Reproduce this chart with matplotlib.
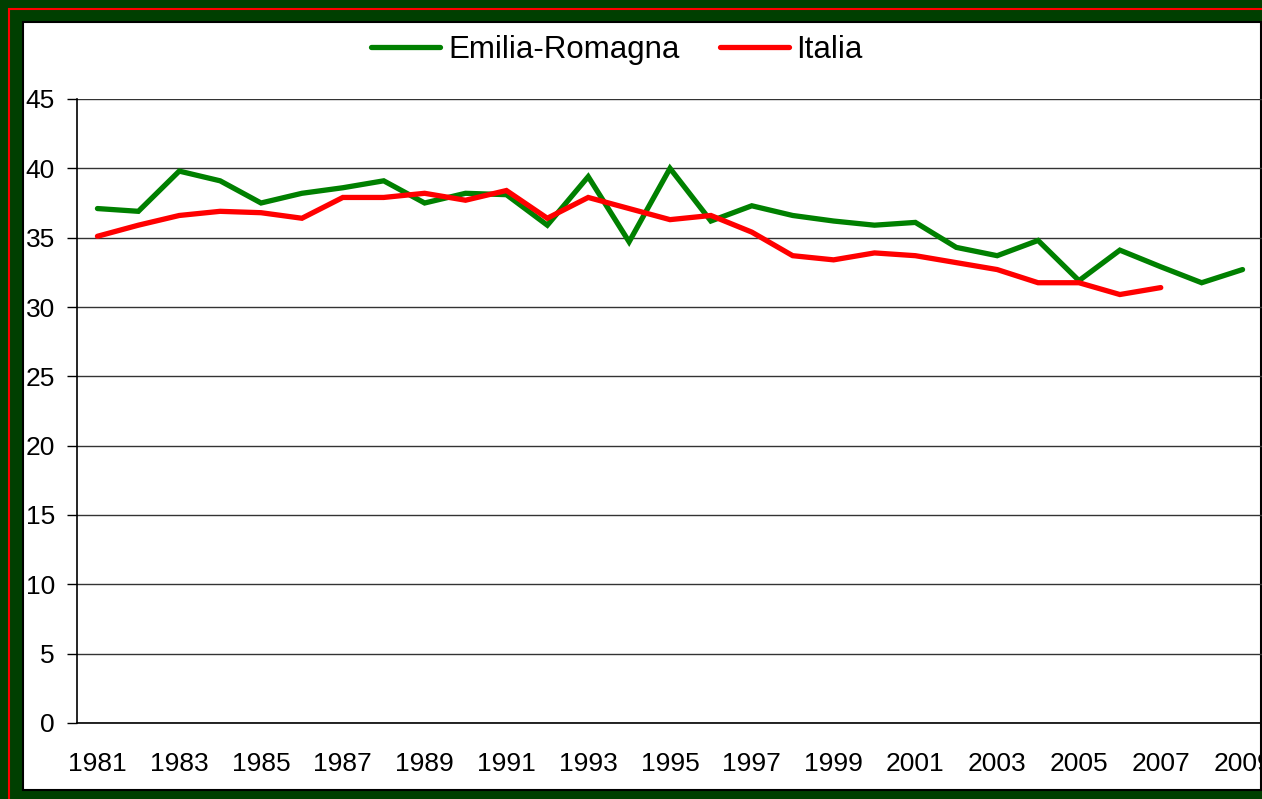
import matplotlib.pyplot as plt
from matplotlib.patches import Rectangle

years = list(range(1981, 2010))
emilia = [37.1, 36.9, 39.8, 39.1, 37.5, 38.2, 38.6, 39.1, 37.5, 38.2,
          38.1, 35.9, 39.4, 34.7, 40.0, 36.2, 37.3, 36.6, 36.2, 35.9,
          36.1, 34.3, 33.7, 34.8, 31.9, 34.1, 32.9, 31.75, 32.7]
italia = [35.1, 35.9, 36.6, 36.9, 36.8, 36.4, 37.9, 37.9, 38.2, 37.7,
          38.4, 36.4, 37.9, 37.1, 36.3, 36.6, 35.4, 33.7, 33.4, 33.9,
          33.7, 33.2, 32.7, 31.75, 31.75, 30.9, 31.4]
yticks = list(range(0, 50, 5))

plt.rcParams['font.family'] = ['Liberation Sans', 'DejaVu Sans']

W, H = 1262, 799
fig = plt.figure(figsize=(W / 100, H / 100), dpi=100)
fig.patch.set_facecolor('#003f00')

def px(x0, y0, x1, y1):
    # pixel box -> figure fraction (x, y, w, h)
    return (x0 / W, 1 - y1 / H, (x1 - x0) / W, (y1 - y0) / H)

x, y, w, h = px(8.5, 8.5, 1300, 1300)
fig.patches.append(Rectangle((x, y), w, h, transform=fig.transFigure,
                             fill=False, edgecolor='#ff0000', lw=1.5,
                             zorder=-10))
x, y, w, h = px(23, 22, 1261, 789.5)
fig.patches.append(Rectangle((x, y), w, h, transform=fig.transFigure,
                             facecolor='white', edgecolor='black', lw=1.5,
                             zorder=-9))

x, y, w, h = px(77, 99, 1263, 723)
ax = fig.add_axes([x, y, w, h])
ax.set_zorder(5)
ax.patch.set_alpha(0)

xs = list(range(len(years)))
ax.plot(xs, emilia, color='#008000', lw=3.8, label='Emilia-Romagna',
        solid_capstyle='round', solid_joinstyle='miter', clip_on=False)
ax.plot(xs[:len(italia)], italia, color='#ff0000', lw=3.8, label='Italia',
        solid_capstyle='round', solid_joinstyle='miter', clip_on=False)

ax.set_xlim(-0.5, len(years) - 0.5)
ax.set_ylim(0, 45)
ax.set_yticks(yticks)
ax.tick_params(axis='y', direction='out', length=7, width=1, labelsize=19,
               pad=9, colors='black')
ax.set_xticks([i - 0.5 for i in range(len(years))])
ax.set_xticklabels([])
ax.tick_params(axis='x', which='major', direction='in', length=-7, width=1)
ax.set_xticks(xs[::2], minor=True)
ax.set_xticklabels([str(yr) for yr in years[::2]], minor=True)
ax.tick_params(axis='x', which='minor', length=0, labelsize=19, pad=21)

ax.grid(axis='y', color='#333333', lw=1)
ax.set_axisbelow(True)
for s in ['top', 'right']:
    ax.spines[s].set_visible(False)
ax.spines['left'].set_linewidth(1.2)
ax.spines['bottom'].set_linewidth(1.2)

leg = fig.legend(loc='center', bbox_to_anchor=(0.489, 1 - 50 / H), ncol=2,
                 frameon=False, fontsize=22.5, handlelength=2.2,
                 handletextpad=0.25, columnspacing=1.3)
leg.set_zorder(6)

fig.savefig('out.png', dpi=100, facecolor=fig.get_facecolor())
